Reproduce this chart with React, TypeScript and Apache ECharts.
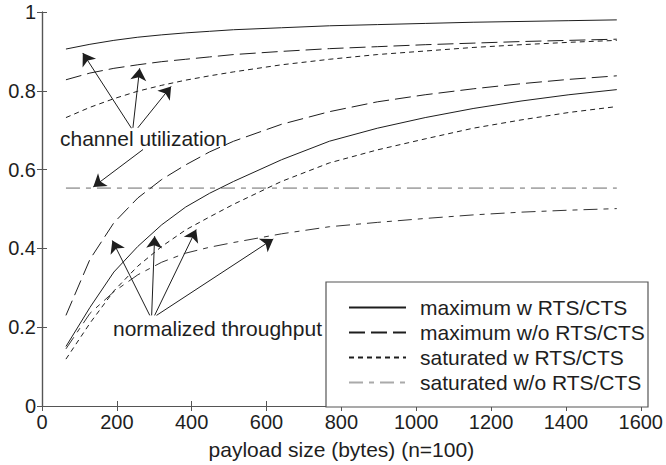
import React, { useEffect, useRef } from "react";
import * as echarts from "echarts";

const payload = [64, 128, 192, 256, 320, 384, 448, 512, 640, 768, 896, 1024, 1152, 1280, 1408, 1536];

// channel utilization
const maxWUtil = [0.906, 0.918, 0.928, 0.936, 0.942, 0.947, 0.951, 0.955, 0.960, 0.965, 0.968, 0.971, 0.974, 0.976, 0.978, 0.980];
const maxWoUtil = [0.828, 0.845, 0.857, 0.866, 0.874, 0.880, 0.886, 0.892, 0.900, 0.907, 0.912, 0.917, 0.921, 0.925, 0.928, 0.931];
const satWUtil = [0.732, 0.758, 0.780, 0.799, 0.814, 0.827, 0.838, 0.848, 0.866, 0.880, 0.892, 0.901, 0.910, 0.917, 0.923, 0.928];
const satWoUtil = [0.553, 0.553, 0.553, 0.553, 0.553, 0.553, 0.553, 0.553, 0.553, 0.553, 0.553, 0.553, 0.553, 0.553, 0.553, 0.553];

// normalized throughput
const maxWThr = [0.151, 0.250, 0.340, 0.405, 0.460, 0.505, 0.540, 0.570, 0.625, 0.672, 0.705, 0.732, 0.755, 0.774, 0.790, 0.803];
const maxWoThr = [0.230, 0.372, 0.465, 0.528, 0.575, 0.612, 0.645, 0.672, 0.715, 0.747, 0.772, 0.790, 0.805, 0.818, 0.829, 0.838];
const satWThr = [0.119, 0.210, 0.292, 0.355, 0.405, 0.447, 0.480, 0.512, 0.570, 0.617, 0.650, 0.678, 0.705, 0.726, 0.745, 0.760];
const satWoThr = [0.145, 0.235, 0.290, 0.333, 0.365, 0.388, 0.403, 0.415, 0.437, 0.455, 0.466, 0.476, 0.485, 0.492, 0.497, 0.501];

const legendNames = ["maximum w RTS/CTS", "maximum w/o RTS/CTS", "saturated w RTS/CTS", "saturated w/o RTS/CTS"];
const xTicks = { min: 0, max: 1600, interval: 200 };
const yTicks = { min: 0, max: 1, interval: 0.2 };

// annotation arrows: [from, to] in data units
const utilArrows = [
  [[239, 0.705], [109, 0.896]],
  [[243, 0.706], [261, 0.857]],
  [[256, 0.706], [345, 0.811]],
  [[270, 0.651], [137, 0.556]],
];
const thrArrows = [
  [[288, 0.23], [188, 0.42]],
  [[293, 0.23], [301, 0.431]],
  [[301, 0.23], [412, 0.448]],
  [[306, 0.23], [618, 0.424]],
];

const FONT = '"Liberation Sans", Arial, sans-serif';
const INK = "#1e1e1e";
const AX = "#555";

const solid = { color: INK, width: 1, type: "solid" as any };
const longDash = { color: INK, width: 1, type: [16, 6] as any };
const shortDash = { color: INK, width: 1, type: [5, 4] as any };
const grayDashDot = { color: "#aaa", width: 1.6, type: [14, 6, 5, 6] as any };
const darkDashDot = { color: "#333", width: 1, type: [14, 6, 5, 6] as any };

function mk(name: string, vals: number[], lineStyle: any) {
  return {
    type: "line",
    name,
    data: payload.map((x, i) => [x, vals[i]]),
    showSymbol: false,
    symbol: "none",
    color: lineStyle.color,
    lineStyle,
    silent: true,
    emphasis: { disabled: true },
  };
}

export default function App() {
  const ref = useRef<HTMLDivElement>(null);
  useEffect(() => {
    if (!ref.current) return;
    const chart = echarts.init(ref.current, null, { renderer: "svg" });
    const arrowData = [...utilArrows, ...thrArrows].map(([a, b]) => [{ coord: a }, { coord: b }]);
    const axisCommon = {
      type: "value",
      axisLine: { show: true, lineStyle: { color: AX, width: 1.2 } },
      axisTick: { show: true, inside: true, length: 5, lineStyle: { color: AX, width: 1 } },
      splitLine: { show: false },
    };
    chart.setOption({
      animation: false,
      backgroundColor: "#fff",
      textStyle: { fontFamily: FONT },
      grid: { left: 42, right: 23, top: 12, bottom: 58 },
      xAxis: [
        {
          ...axisCommon,
          position: "bottom",
          ...xTicks,
          axisLabel: { fontSize: 20, color: INK, margin: 6, fontFamily: FONT, formatter: (v: number) => String(v) },
          name: "payload size (bytes) (n=100)",
          nameLocation: "middle",
          nameGap: 33,
          nameTextStyle: { fontSize: 21, color: INK, fontFamily: FONT },
        },
        { ...axisCommon, position: "top", ...xTicks, axisLabel: { show: false } },
      ],
      yAxis: [
        {
          ...axisCommon,
          position: "left",
          ...yTicks,
          axisLabel: {
            fontSize: 20,
            color: INK,
            margin: 6,
            fontFamily: FONT,
            formatter: (v: number) => (v === 0 ? "0" : v === 1 ? "1" : v.toFixed(1)),
          },
        },
        { ...axisCommon, position: "right", ...yTicks, axisLabel: { show: false } },
      ],
      legend: {
        orient: "vertical",
        left: 343,
        top: 292,
        itemWidth: 57,
        itemHeight: 14,
        itemGap: 4,
        z: 6,
        selectedMode: false,
        itemStyle: { opacity: 0, borderWidth: 0 },
        textStyle: { fontSize: 21, color: INK, fontFamily: FONT, padding: [0, 0, 0, 9] },
        data: legendNames,
      },
      graphic: [
        {
          type: "rect",
          z: 5,
          shape: { x: 326, y: 282, width: 322, height: 125 },
          style: { fill: "#fff", stroke: AX, lineWidth: 1.2 },
        },
        {
          type: "text",
          x: 60,
          y: 138,
          z: 5,
          style: { text: "channel utilization", fontSize: 21, fontFamily: FONT, fill: INK, verticalAlign: "middle" },
        },
        {
          type: "text",
          x: 113,
          y: 328,
          z: 5,
          style: { text: "normalized throughput", fontSize: 21, fontFamily: FONT, fill: INK, verticalAlign: "middle" },
        },
      ],
      series: [
        mk(legendNames[0], maxWUtil, solid),
        mk(legendNames[1], maxWoUtil, longDash),
        mk(legendNames[2], satWUtil, shortDash),
        mk(legendNames[3], satWoUtil, grayDashDot),
        mk(legendNames[0], maxWThr, solid),
        mk(legendNames[1], maxWoThr, longDash),
        mk(legendNames[2], satWThr, shortDash),
        mk(legendNames[3], satWoThr, darkDashDot),
        {
          type: "line",
          name: "arrows",
          data: [],
          silent: true,
          markLine: {
            silent: true,
            symbol: ["none", "arrow"],
            symbolSize: 12,
            label: { show: false },
            lineStyle: { color: INK, width: 1, type: "solid" },
            emphasis: { disabled: true },
            data: arrowData,
          },
        },
      ],
    });
    return () => chart.dispose();
  }, []);
  return <div ref={ref} style={{ width: 666, height: 465, position: "absolute", left: 0, top: 0 }} />;
}
